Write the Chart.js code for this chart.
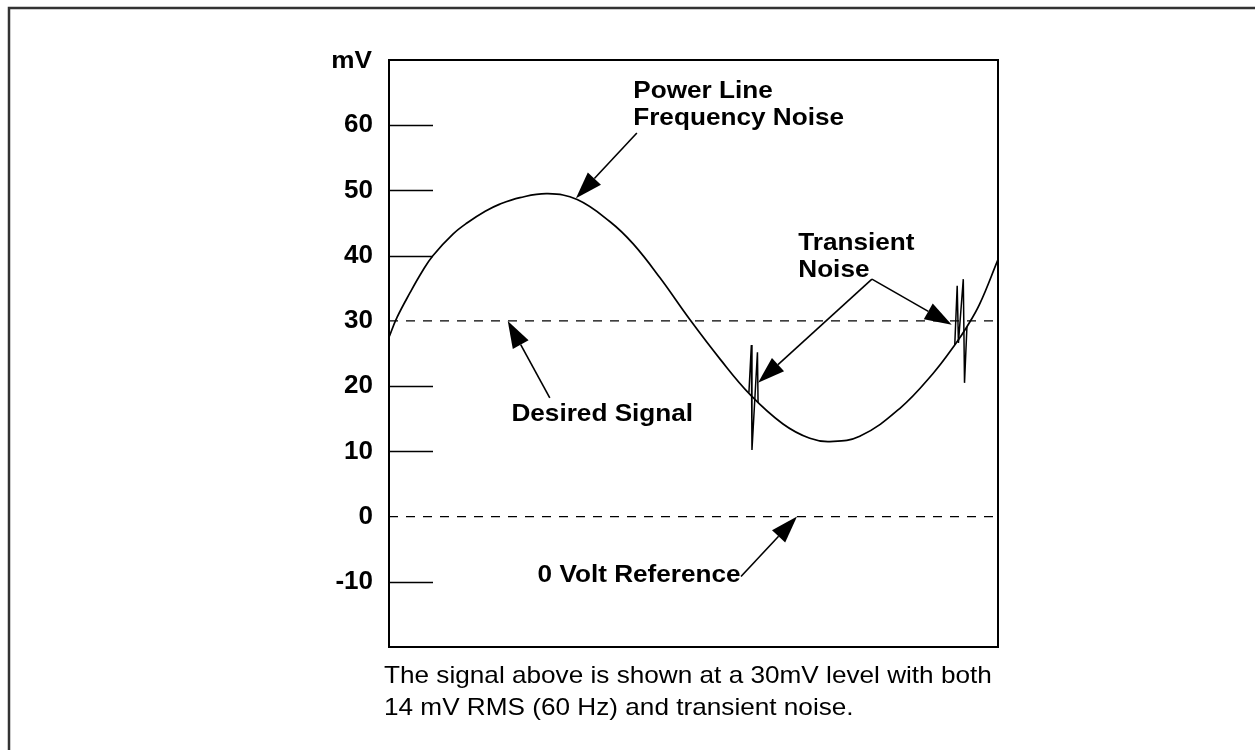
<!DOCTYPE html>
<html lang="en">
<head>
<meta charset="UTF-8">
<title>Signal with Power Line and Transient Noise</title>
<script src="https://cdn.jsdelivr.net/npm/chart.js"></script>
<style>
    html, body {
        margin: 0;
        padding: 0;
        background: #fff;
    }
    .chart-container {
        position: relative;
        width: 1255px;
        height: 750px;
    }
</style>
</head>
<body>
<div class="chart-container">
    <canvas id="signalChart" width="1255" height="750"></canvas>
</div>
<script>
// time runs across the plot in arbitrary units (0..100), values in mV
const curveTime = [0, 1.3, 3.5, 5.4, 7.2, 10.5, 12.8, 15.8, 18.2, 21.5, 26.1, 30.9, 36.3, 40.1, 44.5, 49.4, 54.4, 59.3, 64.7, 69.1, 72.4, 77.3, 83.9, 89.3, 92.9, 94.9, 97.0, 100];
const curveMv   = [27.5, 30.5, 34.4, 37.5, 40.0, 43.3, 45.0, 46.8, 47.9, 48.9, 49.5, 48.6, 45.2, 41.8, 36.6, 30.2, 24.1, 18.7, 14.2, 12.0, 11.5, 12.3, 16.6, 21.9, 26.3, 29.1, 32.6, 39.4];

const spikeOneTime = [59.1, 59.5, 59.6, 60.5, 60.6];
const spikeOneMv   = [19.0, 26.3, 10.2, 25.2, 17.5];
const spikeTwoTime = [92.9, 93.3, 93.5, 94.3, 94.5, 94.9];
const spikeTwoMv   = [26.3, 35.4, 26.6, 36.4, 20.5, 29.1];

const desiredLevel = 30;
const zeroLevel = 0;
const timeRange = [0, 100];
const yRange = [-20, 70];
const yTicks = [-10, 0, 10, 20, 30, 40, 50, 60];

// callouts: text lines anchored at (time, mV) of the first baseline
const noteLines = [['Power Line', 'Frequency Noise'], ['Desired Signal'], ['Transient', 'Noise'], ['0 Volt Reference']];
const noteAnchors = [[40.1, 64.2], [20.1, 14.7], [67.2, 40.8], [24.4, -10.0]];
// arrows: [fromTime, fromMv, tipTime, tipMv]
const arrows = [
    [40.7, 58.8, 30.7, 48.8],
    [26.4, 18.2, 19.5, 30.0],
    [79.3, 36.4, 60.6, 20.5],
    [79.3, 36.4, 92.4, 29.4],
    [57.8, -9.2, 67.0, 0]
];
const captionLines = [
    'The signal above is shown at a 30mV level with both',
    '14 mV RMS (60 Hz) and transient noise.'
];

const FONT = '"Liberation Sans", Arial, Helvetica, sans-serif';
const STRETCH = 1.09;

function toPoints(xs, ys) {
    return xs.map((x, i) => ({x: x, y: ys[i]}));
}

function flatLine(level) {
    return [{x: timeRange[0], y: level}, {x: timeRange[1], y: level}];
}

function wideText(ctx, text, x, y) {
    ctx.save();
    ctx.translate(x, y);
    ctx.scale(STRETCH, 1);
    ctx.fillText(text, 0, 0);
    ctx.restore();
}

function drawArrow(ctx, x1, y1, x2, y2) {
    const ang = Math.atan2(y2 - y1, x2 - x1);
    const len = 27, half = 9;
    const bx = x2 - len * Math.cos(ang), by = y2 - len * Math.sin(ang);
    ctx.beginPath();
    ctx.moveTo(x1, y1);
    ctx.lineTo(bx, by);
    ctx.stroke();
    ctx.beginPath();
    ctx.moveTo(x2, y2);
    ctx.lineTo(bx + half * Math.sin(ang), by - half * Math.cos(ang));
    ctx.lineTo(bx - half * Math.sin(ang), by + half * Math.cos(ang));
    ctx.closePath();
    ctx.fill();
}

const decorations = {
    id: 'decorations',
    beforeDraw(chart) {
        const ctx = chart.ctx;
        ctx.save();
        ctx.fillStyle = '#fff';
        ctx.fillRect(0, 0, chart.width, chart.height);
        // page frame, open on the right and bottom
        ctx.strokeStyle = '#333';
        ctx.lineWidth = 2.5;
        ctx.beginPath();
        ctx.moveTo(9, chart.height);
        ctx.lineTo(9, 8);
        ctx.lineTo(chart.width, 8);
        ctx.stroke();
        ctx.restore();
    },
    afterDatasetsDraw(chart) {
        const ctx = chart.ctx;
        const area = chart.chartArea;
        const xs = chart.scales.x, ys = chart.scales.y;
        ctx.save();
        ctx.strokeStyle = '#000';
        ctx.fillStyle = '#000';

        ctx.lineWidth = 2;
        ctx.strokeRect(area.left, area.top, area.right - area.left, area.bottom - area.top);

        // tick marks point into the plot; the dashed levels stand in for 30 and 0
        ctx.lineWidth = 1.5;
        ys.ticks.forEach(t => {
            if (t.value === desiredLevel || t.value === zeroLevel) return;
            const y = Math.round(ys.getPixelForValue(t.value)) + 0.5;
            ctx.beginPath();
            ctx.moveTo(area.left, y);
            ctx.lineTo(area.left + 44, y);
            ctx.stroke();
        });

        ctx.lineWidth = 1.6;
        arrows.forEach(a => {
            drawArrow(ctx, xs.getPixelForValue(a[0]), ys.getPixelForValue(a[1]),
                xs.getPixelForValue(a[2]), ys.getPixelForValue(a[3]));
        });

        ctx.font = 'bold 24px ' + FONT;
        ctx.textBaseline = 'alphabetic';
        ctx.textAlign = 'left';
        noteLines.forEach((lines, i) => {
            const x = xs.getPixelForValue(noteAnchors[i][0]);
            const y = ys.getPixelForValue(noteAnchors[i][1]);
            lines.forEach((line, j) => wideText(ctx, line, x, y + j * 27));
        });

        ctx.textAlign = 'right';
        wideText(ctx, 'mV', area.left - 17, area.top + 8);

        ctx.textAlign = 'left';
        ctx.font = '24px ' + FONT;
        captionLines.forEach((line, j) => {
            wideText(ctx, line, area.left - 5, area.bottom + 36 + j * 32);
        });
        ctx.restore();
    }
};

const ctx = document.getElementById('signalChart').getContext('2d');
new Chart(ctx, {
    type: 'line',
    data: {
        datasets: [
            {
                label: 'Desired Signal',
                data: flatLine(desiredLevel),
                borderColor: '#000',
                borderWidth: 1.3,
                borderDash: [9, 8]
            },
            {
                label: '0 Volt Reference',
                data: flatLine(zeroLevel),
                borderColor: '#000',
                borderWidth: 1.3,
                borderDash: [9, 8]
            },
            {
                label: 'Power Line Frequency Noise',
                data: toPoints(curveTime, curveMv),
                borderColor: '#000',
                borderWidth: 1.7,
                tension: 0.4
            },
            {
                label: 'Transient 1',
                data: toPoints(spikeOneTime, spikeOneMv),
                borderColor: '#000',
                borderWidth: 1.5,
                tension: 0
            },
            {
                label: 'Transient 2',
                data: toPoints(spikeTwoTime, spikeTwoMv),
                borderColor: '#000',
                borderWidth: 1.5,
                tension: 0
            }
        ]
    },
    options: {
        responsive: false,
        animation: false,
        devicePixelRatio: 1,
        elements: {
            point: { radius: 0, hoverRadius: 0 }
        },
        layout: {
            padding: { left: 0, right: 257, top: 60, bottom: 103 }
        },
        plugins: {
            legend: { display: false },
            tooltip: { enabled: false }
        },
        scales: {
            x: {
                type: 'linear',
                min: timeRange[0],
                max: timeRange[1],
                display: false
            },
            y: {
                min: yRange[0],
                max: yRange[1],
                afterBuildTicks: scale => {
                    scale.ticks = yTicks.map(v => ({value: v}));
                },
                afterFit: scale => {
                    scale.width = 389;
                },
                grid: { display: false, drawTicks: false },
                border: { display: false },
                ticks: {
                    color: '#000',
                    padding: 16,
                    font: { family: FONT, size: 26, weight: 'bold' }
                }
            }
        }
    },
    plugins: [decorations]
});
</script>
</body>
</html>
